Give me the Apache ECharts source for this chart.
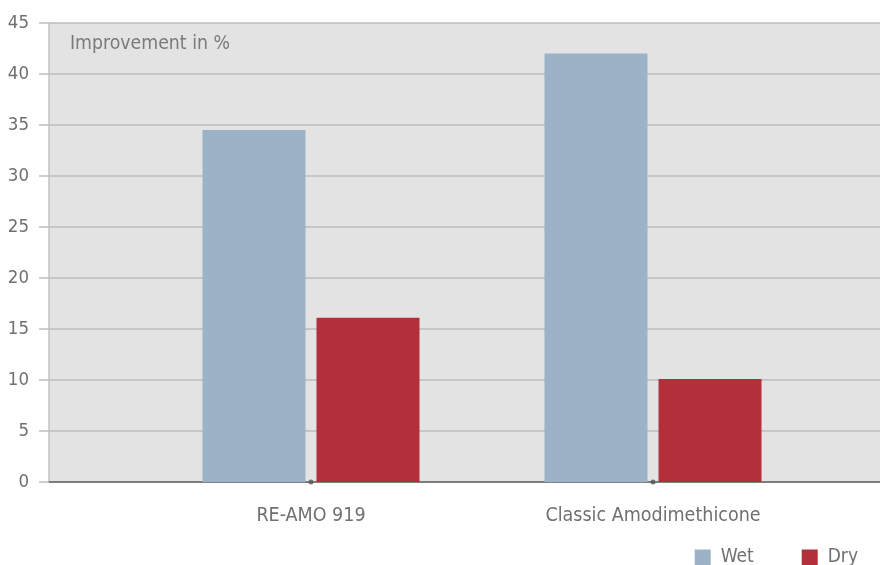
<!DOCTYPE html>
<html><head><meta charset="utf-8">
<script src="https://cdn.jsdelivr.net/npm/echarts@6/dist/echarts.min.js"></script>
<style>html,body{margin:0;padding:0;background:#fff}#c{width:880px;height:565px}</style>
</head><body><div id="c"></div>
<script>
const categories = ['RE-AMO 919', 'Classic Amodimethicone'];
const wetValues = [34.5, 42];
const dryValues = [16.1, 10.1];
const yTicks = [0, 5, 10, 15, 20, 25, 30, 35, 40, 45];
const seriesNames = ['Wet', 'Dry'];

const chart = echarts.init(document.getElementById('c'));
const font = '"DejaVu Sans Condensed", "DejaVu Sans", sans-serif';
chart.setOption({
  animation: false,
  title: { text: 'Improvement in %', left: 70, top: 34, padding: 0,
    textStyle: { fontFamily: font, fontSize: 19.3, fontWeight: 'normal', color: '#7a7a7a' } },
  legend: { data: seriesNames, right: 22, top: 548, icon: 'rect', itemWidth: 16, itemHeight: 16,
    itemGap: 48, padding: 0, textStyle: { fontFamily: font, fontSize: 19, color: '#707070', padding: [0, 0, 0, 5] } },
  grid: [
    { left: 49, right: 0, top: 23, bottom: 83, show: true, backgroundColor: '#e3e3e3', borderWidth: 0 },
    { left: 140, right: 56, top: 23, bottom: 83 }
  ],
  xAxis: [
    { gridIndex: 0, type: 'category', data: [''], axisLine: { show: true, lineStyle: { color: '#666', width: 1.5 } },
      axisTick: { show: false }, axisLabel: { show: false } },
    { gridIndex: 1, type: 'category', data: categories, axisLine: { show: false }, axisTick: { show: false },
      axisLabel: { fontFamily: font, fontSize: 19.5, color: '#707070', margin: 24 } }
  ],
  yAxis: [
    { gridIndex: 0, type: 'value', min: yTicks[0], max: yTicks[yTicks.length - 1], interval: 5,
      axisLine: { show: true, lineStyle: { color: '#c2c2c2', width: 1.5 } },
      axisTick: { show: true, length: 10, lineStyle: { color: '#bdbdbd', width: 1.5 } },
      splitLine: { lineStyle: { color: '#bdbdbd', width: 1.5 } },
      axisLabel: { fontFamily: font, fontSize: 18.5, color: '#707070', margin: 20 } },
    { gridIndex: 1, type: 'value', min: yTicks[0], max: yTicks[yTicks.length - 1], show: false, splitLine: { show: false } }
  ],
  series: [
    { name: seriesNames[0], type: 'bar', xAxisIndex: 1, yAxisIndex: 1, data: wetValues,
      barWidth: 103, barGap: '10.7%', itemStyle: { color: '#9cb2c6' } },
    { name: seriesNames[1], type: 'bar', xAxisIndex: 1, yAxisIndex: 1, data: dryValues,
      barWidth: 103, itemStyle: { color: '#b13039' } },
    { name: 'ticks', type: 'scatter', xAxisIndex: 1, yAxisIndex: 1, data: categories.map(c => [c, 0]),
      symbolSize: 5, itemStyle: { color: '#555' }, z: 5, silent: true }
  ]
});
</script></body></html>
